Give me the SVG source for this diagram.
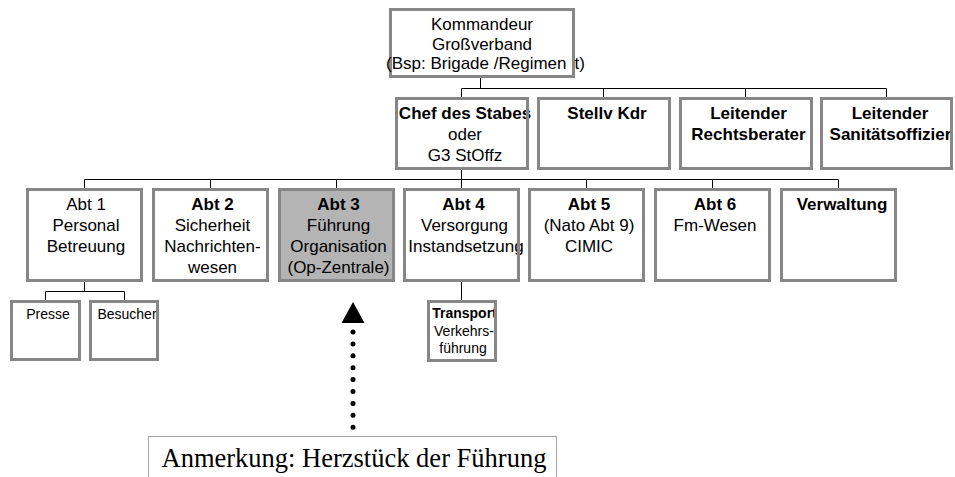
<svg xmlns="http://www.w3.org/2000/svg" width="955" height="477" viewBox="0 0 955 477">
  <style>
    .bg { fill: #ffffff; stroke: none; }
    .bg.hl { fill: #b4b4b4; }
    .frame { fill: none; stroke: #878787; stroke-width: 3; }
    .t { font-family: "Liberation Sans", Arial, sans-serif; font-size: 17px; text-anchor: middle; fill: #000; }
    .b { font-weight: bold; }
    .s { font-size: 14px; }
    .link { fill: none; stroke: #000; stroke-width: 1; }
    .note { fill: none; stroke: #444; stroke-width: 1; stroke-dasharray: 1 1; }
    .note-text { font-family: "Liberation Serif", "Times New Roman", serif; font-size: 26.5px; fill: #000; }
  </style>

  <!-- connectors -->
  <g id="connectors">
    <!-- commander to staff row -->
    <path class="link" d="M480.5 78 V88.5 M461.5 88.5 H886.5 M461.5 88.5 V97 M603.5 88.5 V97 M745.5 88.5 V97 M886.5 88.5 V97"/>
    <!-- chief of staff to departments -->
    <path class="link" d="M461.5 170 V179.5 M84.5 179.5 H838.5 M84.5 179.5 V188 M210.5 179.5 V188 M336.5 179.5 V188 M461.5 179.5 V188 M586.5 179.5 V188 M712.5 179.5 V188 M838.5 179.5 V188"/>
    <!-- Abt 1 sub-units -->
    <path class="link" d="M84.5 282 V291.5 M45.5 291.5 H124.5 M45.5 291.5 V300 M124.5 291.5 V300"/>
    <!-- Abt 4 sub-unit -->
    <path class="link" d="M461.5 282 V300"/>
    <!-- dotted pointer from the note up to Abt 3 -->
    <polygon points="353,302 364.5,323 341.5,323" fill="#000"/>
    <line x1="353" y1="332" x2="353" y2="428" stroke="#000" stroke-width="5" stroke-linecap="round" stroke-dasharray="0 11.9"/>
  </g>

  <!-- commander (text drawn over the frame, the last line runs past both edges) -->
  <g id="kommandeur">
    <rect class="bg" x="390.5" y="9.5" width="183" height="67"/>
    <rect class="frame" x="390.5" y="9.5" width="183" height="67"/>
    <text class="t" x="482" y="30">Kommandeur</text>
    <text class="t" x="482" y="49.5">Großverband</text>
    <text class="t" x="386" y="69" style="text-anchor:start">(Bsp: Brigade /Regimen<tspan dx="8">t)</tspan></text>
  </g>

  <!-- staff row -->
  <g id="chef-des-stabes">
    <rect class="bg" x="396.5" y="98.5" width="131" height="70"/>
    <text class="t b" x="465" y="119">Chef des Stabes</text>
    <text class="t" x="465" y="140">oder</text>
    <text class="t" x="465" y="161">G3 StOffz</text>
    <rect class="frame" x="396.5" y="98.5" width="131" height="70"/>
  </g>
  <g id="stellv-kdr">
    <rect class="bg" x="538.5" y="98.5" width="131" height="70"/>
    <text class="t b" x="607" y="119">Stellv Kdr</text>
    <rect class="frame" x="538.5" y="98.5" width="131" height="70"/>
  </g>
  <g id="rechtsberater">
    <rect class="bg" x="680.5" y="98.5" width="131" height="70"/>
    <text class="t b" x="748.5" y="119">Leitender</text>
    <text class="t b" x="748.5" y="140">Rechtsberater</text>
    <rect class="frame" x="680.5" y="98.5" width="131" height="70"/>
  </g>
  <g id="sanitaetsoffizier">
    <rect class="bg" x="821.5" y="98.5" width="130" height="70"/>
    <text class="t b" x="890" y="119">Leitender</text>
    <text class="t b" x="890.5" y="140">Sanitätsoffizier</text>
    <rect class="frame" x="821.5" y="98.5" width="130" height="70"/>
  </g>

  <!-- departments -->
  <g id="abt1">
    <rect class="bg" x="27.5" y="189.5" width="114" height="91"/>
    <text class="t" x="86" y="210">Abt 1</text>
    <text class="t" x="86" y="231">Personal</text>
    <text class="t" x="86" y="252">Betreuung</text>
    <rect class="frame" x="27.5" y="189.5" width="114" height="91"/>
  </g>
  <g id="abt2">
    <rect class="bg" x="153.5" y="189.5" width="114" height="91"/>
    <text class="t b" x="212.5" y="210">Abt 2</text>
    <text class="t" x="212.5" y="231">Sicherheit</text>
    <text class="t" x="212.5" y="252">Nachrichten-</text>
    <text class="t" x="212.5" y="273">wesen</text>
    <rect class="frame" x="153.5" y="189.5" width="114" height="91"/>
  </g>
  <g id="abt3">
    <rect class="bg hl" x="279.5" y="189.5" width="114" height="91"/>
    <text class="t b" x="338.5" y="210">Abt 3</text>
    <text class="t" x="338.5" y="231">Führung</text>
    <text class="t" x="338.5" y="252">Organisation</text>
    <text class="t" x="338.5" y="273">(Op-Zentrale)</text>
    <rect class="frame" x="279.5" y="189.5" width="114" height="91"/>
  </g>
  <g id="abt4">
    <rect class="bg" x="404.5" y="189.5" width="114" height="91"/>
    <text class="t b" x="463.5" y="210">Abt 4</text>
    <text class="t" x="464.5" y="231">Versorgung</text>
    <text class="t" x="466" y="252">Instandsetzung</text>
    <rect class="frame" x="404.5" y="189.5" width="114" height="91"/>
  </g>
  <g id="abt5">
    <rect class="bg" x="529.5" y="189.5" width="114" height="91"/>
    <text class="t b" x="589" y="210">Abt 5</text>
    <text class="t" x="589" y="231">(Nato Abt 9)</text>
    <text class="t" x="589" y="252">CIMIC</text>
    <rect class="frame" x="529.5" y="189.5" width="114" height="91"/>
  </g>
  <g id="abt6">
    <rect class="bg" x="655.5" y="189.5" width="114" height="91"/>
    <text class="t b" x="715" y="210">Abt 6</text>
    <text class="t" x="715" y="231">Fm-Wesen</text>
    <rect class="frame" x="655.5" y="189.5" width="114" height="91"/>
  </g>
  <g id="verwaltung">
    <rect class="bg" x="781.5" y="189.5" width="114" height="91"/>
    <text class="t b" x="842" y="210">Verwaltung</text>
    <rect class="frame" x="781.5" y="189.5" width="114" height="91"/>
  </g>

  <!-- sub-units -->
  <g id="presse">
    <rect class="bg" x="11.5" y="301.5" width="68" height="58"/>
    <text class="t s" x="48" y="319">Presse</text>
    <rect class="frame" x="11.5" y="301.5" width="68" height="58"/>
  </g>
  <g id="besucher">
    <rect class="bg" x="90.5" y="301.5" width="67" height="58"/>
    <text class="t s" x="127" y="319">Besucher</text>
    <rect class="frame" x="90.5" y="301.5" width="67" height="58"/>
  </g>
  <g id="transport">
    <rect class="bg" x="428.5" y="301.5" width="67" height="59"/>
    <text class="t s b" x="464.5" y="318">Transport</text>
    <text class="t s" x="464" y="336">Verkehrs-</text>
    <text class="t s" x="463" y="353">führung</text>
    <rect class="frame" x="428.5" y="301.5" width="67" height="59"/>
  </g>

  <!-- note -->
  <g id="anmerkung">
    <rect class="note" x="148.5" y="436.5" width="408" height="60"/>
    <text class="note-text" x="161.5" y="467">Anmerkung: Herzstück der Führung</text>
  </g>
</svg>
